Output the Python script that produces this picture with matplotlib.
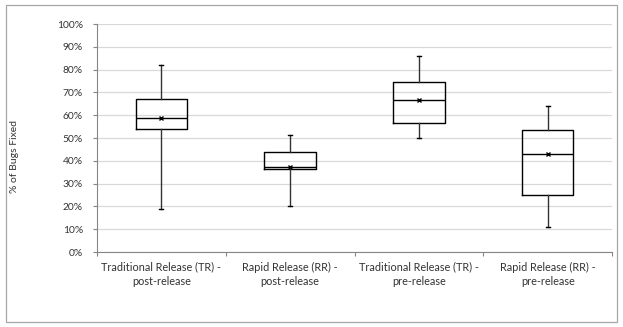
import matplotlib
matplotlib.use("Agg")
import matplotlib.pyplot as plt
from matplotlib.patches import Rectangle
from matplotlib.ticker import MultipleLocator, FuncFormatter, FixedLocator, NullFormatter

plt.rcParams['font.family'] = ['Lato', 'DejaVu Sans']

# data (percent)
categories = ["Traditional Release (TR) -\npost-release",
              "Rapid Release (RR) -\npost-release",
              "Traditional Release (TR) -\npre-release",
              "Rapid Release (RR) -\npre-release"]
whisker_low = [18.7, 20.0, 50.0, 11.0]
q1 = [53.8, 36.3, 56.7, 25.0]
median = [58.6, 37.1, 66.8, 43.0]
q3 = [67.0, 43.7, 74.6, 53.6]
whisker_high = [82.2, 51.3, 86.0, 64.2]
mean = [58.7, 37.1, 66.8, 43.1]

stats = []
for i in range(len(categories)):
    stats.append(dict(whislo=whisker_low[i], q1=q1[i], med=median[i], q3=q3[i],
                      whishi=whisker_high[i], mean=mean[i], label=categories[i]))

fig = plt.figure(figsize=(6.23, 3.27), dpi=100)
# outer chart border like excel
fig.patches.append(Rectangle((6/623, 5/327), 611/623, 317/327, transform=fig.transFigure,
                             fill=False, edgecolor='#a6a6a6', lw=0.9))

ax = fig.add_axes([97/623, 1-252/327, 515/623, 228/327])
pos = [1, 2, 3, 4]
ax.bxp(stats, positions=pos, widths=0.4, showmeans=True, showfliers=False,
       boxprops=dict(color='black', lw=1.0),
       medianprops=dict(color='black', lw=1.0),
       whiskerprops=dict(color='#333333', lw=1.0),
       capprops=dict(color='black', lw=1.0),
       capwidths=0.03,
       meanprops=dict(marker='x', markeredgecolor='black', markersize=3.5, markeredgewidth=1.0),
       zorder=3)

ax.set_xlim(0.5, 4.5)
ax.set_ylim(0, 100)
ax.yaxis.set_major_locator(MultipleLocator(10))
ax.yaxis.set_major_formatter(FuncFormatter(lambda v, p: f"{v:.0f}%"))
ax.grid(axis='y', color='#d9d9d9', lw=0.9, zorder=0)
ax.set_axisbelow(True)

# category labels centred, separators between categories
ax.set_xticks(pos)
ax.set_xticklabels(categories, fontsize=7.8, color='#333333', linespacing=1.35)
ax.tick_params(axis='x', length=0, pad=7)
ax.xaxis.set_minor_locator(FixedLocator([0.5, 1.5, 2.5, 3.5, 4.5]))
ax.xaxis.set_minor_formatter(NullFormatter())
ax.tick_params(axis='x', which='minor', length=3, color='#868686', width=0.8)
ax.tick_params(axis='y', length=3, color='#868686', width=0.8, pad=7,
               labelsize=7.4, labelcolor='#333333')

for s in ['top', 'right']:
    ax.spines[s].set_visible(False)
for s in ['left', 'bottom']:
    ax.spines[s].set_color('#868686')
    ax.spines[s].set_linewidth(0.8)

fig.text(15/623, 1-157/327, "% of Bugs Fixed", rotation=90, ha='center', va='center',
         fontsize=7.5, color='#333333')

fig.savefig("out.png", dpi=100)
